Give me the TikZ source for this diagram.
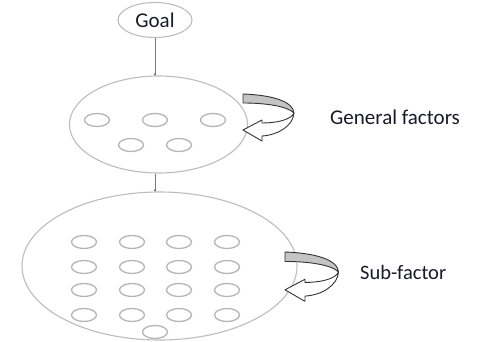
\documentclass[tikz,border=0pt]{standalone}
\usepackage{fontspec}
\setmainfont{Carlito}
\usetikzlibrary{shapes.geometric,arrows.meta}
\definecolor{ringgray}{HTML}{BDBDBD}
\definecolor{dotgray}{HTML}{B5B5B5}
\definecolor{bandgray}{HTML}{C4C4C4}
\definecolor{arrowline}{HTML}{333333}
\definecolor{linkgray}{HTML}{777777}
\definecolor{textdark}{HTML}{1A1A2A}
\tikzset{
  ring/.style={ellipse, draw=ringgray, line width=1.1pt, inner sep=0pt},
  factor/.style={ellipse, draw=dotgray, line width=1.3pt, minimum width=25pt, minimum height=13pt, inner sep=0pt},
  link/.style={draw=linkgray, line width=0.8pt, -{Circle[length=2.2pt,fill=black]}},
  lbl/.style={anchor=west, inner sep=0pt, text=textdark},
  curlarrow/.pic={
    \filldraw[fill=bandgray, draw=arrowline, line width=0.9pt, line join=round]
      (0,0) .. controls (28,1) and (50,7) .. (51,19)
      .. controls (44,12) and (22,9) .. (0,9) -- cycle;
    \filldraw[fill=white, draw=arrowline, line width=0.9pt, line join=round]
      (51,19) .. controls (48,26) and (33,29) .. (19,29) -- (19,26) -- (0,36)
      -- (19,47) -- (19,42) .. controls (35,41) and (50,32) .. (51,19) -- cycle;
  }
}
\begin{document}
\begin{tikzpicture}[x=1pt,y=-1pt]
\useasboundingbox[fill=white] (0,0) rectangle (492,342);
% rings
\node[ring, minimum width=74pt, minimum height=35pt, text=textdark, font=\fontsize{21}{23}\selectfont] (goal) at (155,20) {Goal};
\node[ring, minimum width=178pt, minimum height=97pt] (general) at (158.5,124.5) {};
\node[ring, minimum width=275pt, minimum height=148pt] (sub) at (159.5,266) {};
% connectors
\draw[link] (goal.south) -- (goal.south |- general.north);
\draw[link] (goal.south |- general.south) -- (goal.south |- sub.north);
% general factors
\node[factor] (g1) at (97,120) {};
\node[factor] (g2) at (155,120) {};
\node[factor] (g3) at (213,120) {};
\node[factor] (g4) at (131,145) {};
\node[factor] (g5) at (179,145) {};
% sub factors
\foreach \r/\yy in {1/242,2/267,3/290,4/315}{
  \foreach \c/\xx in {1/84,2/132,3/179,4/227}{
    \node[factor] (s\r\c) at (\xx,\yy) {};
  }
}
\node[factor] (s5) at (155,332) {};
% curved arrows
\pic at (243,94) {curlarrow};
\pic[scale=1.05] at (285,252) {curlarrow};
% labels
\node[lbl, font=\fontsize{21}{23}\selectfont] (lgen) at (330,117) {General factors};
\node[lbl, font=\fontsize{20.5}{23}\selectfont] (lsub) at (360,272) {Sub-factor};
\end{tikzpicture}
\end{document}
